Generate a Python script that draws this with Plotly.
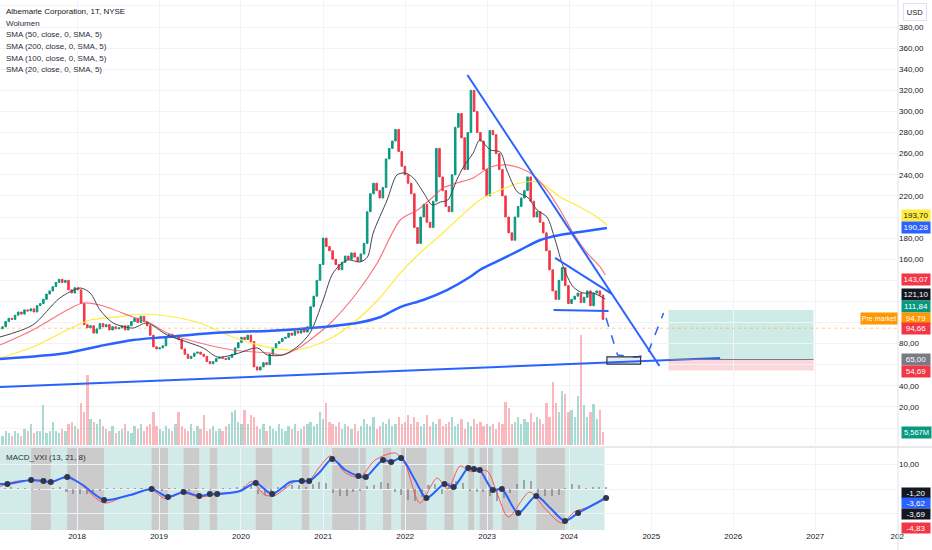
import pandas as pd
import plotly.graph_objects as go
from datetime import datetime

FONT = "Liberation Sans, Arial, sans-serif"
UP = "#089981"
DOWN = "#F23645"
BLUE = "#2962FF"

# ---- weekly-ish candles (two-week steps), closes ----
start_date = "2017-01-20"
close_2017 = [94, 96, 101, 104, 103, 107, 110, 108, 112, 111, 113, 110, 116, 118, 122, 127, 130, 134, 138, 141, 138, 140, 131, 128, 133, 131]
close_2018 = [118, 98, 95, 97, 90, 94, 99, 96, 98, 93, 96, 94, 95, 97, 93, 97, 101, 104, 100, 106, 101, 97, 88, 77, 75, 76]
close_2019 = [78, 86, 89, 86, 87, 84, 75, 70, 66, 68, 71, 72, 70, 68, 63, 61, 63, 66, 67, 66, 65, 67, 70, 76, 81, 86]
close_2020 = [84, 88, 82, 58, 55, 58, 62, 60, 70, 76, 80, 82, 85, 86, 90, 88, 92, 90, 94, 91, 96, 115, 125, 140, 155, 180]
close_2021 = [172, 168, 160, 155, 150, 157, 163, 160, 166, 162, 158, 165, 175, 205, 222, 232, 225, 218, 228, 255, 265, 272, 283, 262, 248, 240]
close_2022 = [232, 222, 190, 175, 200, 212, 195, 190, 215, 265, 238, 225, 210, 205, 240, 285, 298, 275, 245, 280, 320, 300, 280, 272, 245, 220]
close_2023 = [282, 278, 260, 245, 220, 200, 185, 178, 200, 210, 218, 225, 238, 215, 200, 205, 195, 185, 168, 150, 130, 122, 140, 152, 135, 118]
close_2024 = [122, 125, 128, 119, 124, 130, 116, 128, 130, 126, 103]

# volume in millions
vol_2017 = [5, 4, 6, 5, 4, 6, 5, 4, 7, 6, 9, 5, 6, 6, 17, 5, 6, 10, 6, 5, 7, 6, 9, 10, 8, 7]
vol_2018 = [18, 14, 30, 11, 10, 9, 11, 8, 7, 6, 8, 5, 6, 7, 9, 6, 5, 8, 7, 9, 6, 8, 9, 14, 8, 7]
vol_2019 = [6, 8, 7, 6, 9, 14, 8, 7, 6, 9, 6, 8, 7, 13, 6, 7, 8, 6, 7, 6, 8, 9, 14, 15, 10, 9]
vol_2020 = [15, 9, 13, 12, 8, 7, 9, 6, 8, 7, 6, 9, 7, 6, 8, 7, 9, 6, 7, 8, 9, 10, 8, 9, 14, 11]
vol_2021 = [18, 10, 9, 8, 10, 7, 9, 8, 7, 9, 6, 8, 11, 9, 8, 12, 7, 8, 10, 9, 11, 8, 9, 12, 9, 10]
vol_2022 = [13, 9, 12, 10, 8, 9, 13, 8, 10, 9, 11, 8, 9, 10, 12, 8, 9, 11, 7, 10, 8, 11, 9, 10, 8, 9]
vol_2023 = [8, 9, 7, 10, 9, 18.6, 16, 9, 10, 12, 9, 11, 10, 13.6, 10, 12, 11, 9, 18, 12, 27, 18, 14, 23, 22, 14]
vol_2024 = [15, 12, 21, 47, 17, 12, 14, 17.6, 11, 15, 5.567]

# ---- moving averages (decimal year, price) ----
sma20_t = [2017.06, 2017.46, 2017.79, 2018.04, 2018.16, 2018.28, 2018.44, 2018.68, 2018.85, 2019.10, 2019.34, 2019.54, 2019.71, 2019.90, 2020.20, 2020.32, 2020.51, 2020.68, 2020.84, 2021.00, 2021.12, 2021.29, 2021.45, 2021.54, 2021.61, 2021.78, 2021.90, 2022.00, 2022.10, 2022.22, 2022.33, 2022.43, 2022.52, 2022.63, 2022.71, 2022.83, 2022.91, 2023.04, 2023.16, 2023.24, 2023.37, 2023.49, 2023.61, 2023.73, 2023.83, 2023.93, 2024.05, 2024.17, 2024.29, 2024.44]
sma20_v = [86.3, 97.7, 123.3, 132.7, 128.0, 111.9, 99.6, 94.8, 99.6, 88.2, 81.6, 75.9, 67.4, 69.3, 75.9, 69.3, 69.3, 76.8, 90.1, 121.4, 146.9, 159.3, 157.4, 162.1, 184.8, 216.1, 239.8, 241.7, 237.0, 223.7, 211.4, 214.2, 216.1, 235.1, 247.4, 260.6, 273.0, 263.5, 261.6, 244.5, 223.7, 219.0, 206.6, 200.0, 178.2, 152.6, 133.7, 128.0, 128.0, 122.3]
sma50_t = [2017.06, 2017.46, 2017.88, 2018.07, 2018.28, 2018.68, 2018.89, 2019.10, 2019.50, 2019.90, 2020.32, 2020.51, 2020.72, 2020.84, 2021.09, 2021.41, 2021.66, 2021.94, 2022.15, 2022.34, 2022.46, 2022.63, 2022.83, 2023.04, 2023.24, 2023.40, 2023.56, 2023.73, 2023.89, 2024.05, 2024.22, 2024.38, 2024.44]
sma50_v = [78.7, 92.9, 111.9, 118.5, 116.6, 105.3, 99.6, 90.1, 80.6, 74.0, 71.2, 69.3, 76.8, 83.5, 99.6, 128.0, 156.4, 197.2, 206.6, 219.0, 227.5, 232.2, 237.0, 247.4, 249.3, 246.4, 239.8, 225.6, 206.6, 184.8, 165.9, 152.6, 145.1]
sma100_t = [2017.06, 2017.46, 2017.88, 2018.16, 2018.49, 2018.80, 2019.10, 2019.50, 2019.90, 2020.32, 2020.63, 2020.84, 2021.12, 2021.41, 2021.70, 2021.94, 2022.22, 2022.46, 2022.67, 2022.91, 2023.16, 2023.40, 2023.61, 2023.73, 2023.89, 2024.13, 2024.34, 2024.46]
sma100_v = [66.4, 76.8, 92.9, 102.4, 105.3, 108.1, 106.2, 99.6, 86.3, 76.8, 74.0, 76.8, 86.3, 102.4, 124.2, 146.9, 168.7, 184.8, 200.0, 216.1, 225.6, 232.2, 233.2, 228.4, 219.0, 209.5, 200.0, 192.4]
sma200_t = [2017.06, 2017.88, 2018.28, 2018.68, 2019.10, 2019.50, 2019.90, 2020.32, 2021.00, 2021.41, 2021.70, 2021.94, 2022.22, 2022.51, 2022.79, 2022.91, 2023.16, 2023.40, 2023.65, 2023.89, 2024.13, 2024.46]
sma200_v = [65.5, 71.2, 77.8, 83.5, 86.3, 89.2, 91.1, 92.0, 95.8, 99.6, 105.3, 114.7, 121.4, 130.8, 143.2, 149.8, 159.3, 168.7, 178.2, 182.9, 185.8, 189.6]

# ---- drawn trend lines (decimal year, price) ----
trend_lines = {
    "down_big": ([2022.76, 2025.10], [334.5, 58.8]),
    "down_small": ([2023.83, 2024.52], [161.2, 127.1]),
    "support_flat": ([2023.81, 2024.48], [111.9, 111.0]),
    "support_long": ([2017.06, 2025.84], [38.9, 66.4]),
}
path_t = [2024.45, 2024.59, 2024.81, 2024.95, 2025.15]
path_v = [104.3, 69.3, 67.4, 69.3, 109.1]
zone_t = [2024.46, 2024.87]
zone_v = [60.7, 67.4]
trade_t = [2025.21, 2026.98]
trade_target, trade_entry, trade_stop = 111.84, 65.00, 54.69
premarket = 94.66

# ---- MACD_VXI ----
macd_t = [2017.06, 2017.15, 2017.44, 2017.59, 2017.68, 2017.88, 2018.07, 2018.33, 2018.65, 2018.91, 2019.11, 2019.30, 2019.49, 2019.62, 2019.71, 2019.99, 2020.18, 2020.38, 2020.60, 2020.74, 2020.83, 2020.96, 2021.11, 2021.27, 2021.43, 2021.52, 2021.73, 2021.83, 2021.95, 2022.12, 2022.26, 2022.48, 2022.59, 2022.77, 2022.84, 2022.91, 2023.07, 2023.18, 2023.38, 2023.60, 2023.77, 2023.95, 2024.11, 2024.45]
macd_v = [2.0, 2.0, 3.6, 3.2, 2.8, 4.8, 1.6, -4.4, -2.4, 0.0, -3.2, -1.2, -2.8, -2.0, -2.0, -0.8, 2.4, -2.0, 2.8, 3.2, 3.2, 6.8, 12.0, 7.6, 5.2, 4.8, 11.6, 10.8, 12.4, 3.6, -3.6, 2.0, 0.8, 8.4, 8.0, 7.6, -0.4, 0.0, -9.6, -2.8, -7.6, -12.8, -9.6, -3.6]
signal_t = [2017.06, 2017.24, 2017.44, 2017.59, 2017.73, 2017.88, 2018.04, 2018.33, 2018.59, 2018.91, 2019.07, 2019.30, 2019.49, 2019.66, 2019.99, 2020.13, 2020.29, 2020.41, 2020.66, 2020.83, 2020.96, 2021.09, 2021.27, 2021.45, 2021.63, 2021.88, 2022.00, 2022.18, 2022.39, 2022.52, 2022.67, 2022.79, 2023.00, 2023.12, 2023.26, 2023.52, 2023.71, 2023.91, 2024.07, 2024.26, 2024.45]
signal_v = [1.0, 3.0, 3.4, 3.0, 3.0, 5.2, 2.0, -5.6, -2.8, -0.4, -3.8, -1.6, -3.2, -2.4, -0.6, 3.0, -2.4, -2.6, 3.0, 3.6, 9.0, 13.2, 6.5, 4.8, 11.5, 14.4, 10.0, -5.6, 4.4, 0.0, 9.2, 7.0, 7.2, -1.6, -11.2, -1.2, -8.0, -13.6, -9.0, -7.0, -2.8]
cross_t = [2017.15, 2017.44, 2017.59, 2017.68, 2017.88, 2018.33, 2018.91, 2019.11, 2019.30, 2019.49, 2019.62, 2019.71, 2020.18, 2020.38, 2020.74, 2020.83, 2021.11, 2021.43, 2021.52, 2021.73, 2021.83, 2021.95, 2022.26, 2022.48, 2022.59, 2022.77, 2022.84, 2022.91, 2023.07, 2023.18, 2023.38, 2023.60, 2023.95, 2024.11, 2024.45]
cross_v = [2.0, 3.6, 3.2, 2.8, 4.8, -4.4, 0.0, -3.2, -1.2, -2.8, -2.0, -2.0, 2.4, -2.0, 3.2, 3.2, 12.0, 5.2, 4.8, 11.6, 10.8, 12.4, -3.6, 2.0, 0.8, 8.4, 8.0, 7.6, -0.4, 0.0, -9.6, -2.8, -12.8, -9.6, -3.6]
hist_start = "2017-02-01"
hist_v = [0.6, 0.8, 0.4, 0.3, -0.4, -0.3, 0.2, 0.5, 0.8, -1.0, -1.8,
          -2.2, -1.8, -1.2, -0.6, 0.5, 0.6, 0.4, 0.5, 0.3, 0.4, -0.3, -0.8,
          -0.6, 0.4, 0.5, -0.5, -0.6, 0.3, 0.4, -0.2, 0.2, 0.5, 0.6, 0.8,
          1.2, 1.5, -1.8, -2.6, -1.2, 1.0, 1.4, 1.6, 1.8, 0.8, 2.2, 3.0,
          2.5, -1.5, -3.0, -2.8, -1.0, -0.6, 1.2, 1.5, 2.8, 2.4, -1.0, -2.5,
          -4.5, -4.8, -3.2, 1.8, 2.0, -1.8, 2.5, 3.2, 2.6, -0.8, -1.2, -1.0,
          -3.0, -5.0, -3.5, -1.5, 2.0, 3.8, 3.2, -1.5, -2.8, -3.0, -2.5, 0.5,
          2.0, 1.5, 0.6, 0.8, 1.0, 0.7]
# grey phases of the MACD_VXI background (decimal year pairs)
phase_bands = [(2017.44, 2017.68), (2017.88, 2018.33), (2018.91, 2019.11), (2019.30, 2019.49), (2019.62, 2019.71),
               (2020.18, 2020.38), (2020.74, 2020.83), (2021.11, 2021.43), (2021.45, 2021.52), (2021.73, 2021.83),
               (2021.95, 2022.26), (2022.48, 2022.59), (2022.77, 2022.84), (2022.91, 2023.07), (2023.18, 2023.38),
               (2023.60, 2023.95)]

# price scale tags (text, value, bg, fg, pixel offset to avoid overlap)
price_tags = [("193,70", 193.70, "#FFEB3B", "#131722", 8), ("190,28", 190.28, BLUE, "white", 0),
              ("143,07", 143.07, DOWN, "white", -2), ("121,10", 121.10, "#131722", "white", 6),
              ("111,84", 111.84, UP, "white", 4), ("94,79", 94.79, "#FF9800", "white", 10),
              ("94,66", 94.66, DOWN, "white", 0), ("65,00", 65.00, "#787B86", "white", 0),
              ("54,69", 54.69, DOWN, "white", -1)]
macd_tags = [("-1,20", -1.20, "#131722", -1), ("-3,62", -3.62, BLUE, -5), ("-3,69", -3.69, "#131722", -16), ("-4,83", -4.83, DOWN, -27)]
legend_lines = ["Albemarle Corporation, 1T, NYSE", "Wolumen", "SMA (50, close, 0, SMA, 5)",
                "SMA (200, close, 0, SMA, 5)", "SMA (100, close, 0, SMA, 5)", "SMA (20, close, 0, SMA, 5)"]
year_ticks = [2018, 2019, 2020, 2021, 2022, 2023, 2024, 2025, 2026, 2027, 2028]
shown_prices = [20, 40, 80, 160, 180, 220, 240, 260, 280, 300, 320, 340, 360, 380]


def yr(t):
    y = int(t)
    a = datetime(y, 1, 1)
    b = datetime(y + 1, 1, 1)
    return a + (b - a) * (t - y)


def yrs(ts):
    return [yr(t) for t in ts]


closes = close_2017 + close_2018 + close_2019 + close_2020 + close_2021 + close_2022 + close_2023 + close_2024
volumes = vol_2017 + vol_2018 + vol_2019 + vol_2020 + vol_2021 + vol_2022 + vol_2023 + vol_2024
dates = pd.date_range(start_date, periods=len(closes), freq="14D")
opens = [closes[0]] + closes[:-1]
highs = [max(o, c) for o, c in zip(opens, closes)]
lows = [min(o, c) for o, c in zip(opens, closes)]
vol_cols = ["rgba(8,153,129,0.35)" if c >= o else "rgba(242,54,69,0.35)" for o, c in zip(opens, closes)]
hist_dates = pd.date_range(hist_start, periods=len(hist_v), freq="MS") + pd.Timedelta(days=14)

fig = go.Figure()
fig.add_trace(go.Bar(x=dates, y=volumes, marker_color=vol_cols, marker_line_width=0,
                     width=10 * 86400000, yaxis="y2", showlegend=False))
fig.add_trace(go.Candlestick(x=dates, open=opens, high=highs, low=lows, close=closes,
                             increasing=dict(line=dict(color=UP, width=1), fillcolor=UP),
                             decreasing=dict(line=dict(color=DOWN, width=1), fillcolor=DOWN),
                             whiskerwidth=0, showlegend=False))
for t, v, col, w in [(sma100_t, sma100_v, "#FFEB3B", 1.2), (sma50_t, sma50_v, "rgba(247,82,95,0.8)", 1.2),
                     (sma200_t, sma200_v, BLUE, 2.5), (sma20_t, sma20_v, "#434651", 1)]:
    fig.add_trace(go.Scatter(x=yrs(t), y=v, mode="lines", line=dict(color=col, width=w, shape="spline", smoothing=0.8),
                             showlegend=False))
for t, v in trend_lines.values():
    fig.add_trace(go.Scatter(x=yrs(t), y=v, mode="lines", line=dict(color=BLUE, width=2), showlegend=False))
fig.add_trace(go.Scatter(x=yrs(path_t), y=path_v, mode="lines", line=dict(color=BLUE, width=1.5, dash="dash"),
                         showlegend=False))

# MACD panel
fig.add_trace(go.Bar(x=hist_dates, y=hist_v, marker_color="rgba(110,110,120,0.55)", marker_line_width=0,
                     width=9 * 86400000, yaxis="y3", showlegend=False))
fig.add_trace(go.Scatter(x=yrs(signal_t), y=signal_v, mode="lines", yaxis="y3",
                         line=dict(color="#FF5252", width=1, shape="spline", smoothing=0.8), showlegend=False))
fig.add_trace(go.Scatter(x=yrs(macd_t), y=macd_v, mode="lines", yaxis="y3",
                         line=dict(color=BLUE, width=2, shape="spline", smoothing=0.8), showlegend=False))
fig.add_trace(go.Scatter(x=yrs(cross_t), y=cross_v, mode="markers", yaxis="y3",
                         marker=dict(color="#2f3650", size=6), showlegend=False))

shapes = []
# MACD background and grey phases
shapes.append(dict(type="rect", xref="x", yref="y3 domain", x0=dates[0] - pd.Timedelta(days=30),
                   x1=dates[-1] + pd.Timedelta(days=7), y0=0, y1=1, fillcolor="#d2ebe8", line_width=0, layer="below"))
for a, b in phase_bands:
    shapes.append(dict(type="rect", xref="x", yref="y3 domain", x0=yr(a), x1=yr(b), y0=0, y1=1,
                       fillcolor="#cbcbcb", line_width=0, layer="below"))
# risk/reward box
shapes.append(dict(type="rect", xref="x", yref="y", x0=yr(trade_t[0]), x1=yr(trade_t[1]), y0=trade_entry,
                   y1=trade_target, fillcolor="rgba(8,153,129,0.2)", line_width=0, layer="below"))
shapes.append(dict(type="rect", xref="x", yref="y", x0=yr(trade_t[0]), x1=yr(trade_t[1]), y0=trade_stop,
                   y1=trade_entry, fillcolor="rgba(242,54,69,0.2)", line_width=0, layer="below"))
shapes.append(dict(type="line", xref="x", yref="y", x0=yr(trade_t[0]), x1=yr(trade_t[1]), y0=trade_entry,
                   y1=trade_entry, line=dict(color="#787B86", width=1)))
# small target zone
shapes.append(dict(type="rect", xref="x", yref="y", x0=yr(zone_t[0]), x1=yr(zone_t[1]), y0=zone_v[0], y1=zone_v[1],
                   fillcolor="rgba(41,98,255,0.12)", line=dict(color="#333333", width=1.2)))
# pre-market line
shapes.append(dict(type="line", xref="paper", yref="y", x0=0, x1=1, y0=premarket, y1=premarket,
                   line=dict(color="rgba(255,152,0,0.45)", width=1, dash="dot")))
# pane separator and scale border
shapes.append(dict(type="line", xref="paper", yref="paper", x0=0, x1=1.04, y0=0.1566, y1=0.1566,
                   line=dict(color="#d1d4dc", width=1)))
shapes.append(dict(type="line", xref="paper", yref="paper", x0=1, x1=1, y0=-0.04, y1=1,
                   line=dict(color="#e0e3eb", width=1)))

ann = []
for i, txt in enumerate(legend_lines):
    ann.append(dict(xref="paper", yref="paper", x=0.004, y=1 - (11.7 + 11.6 * i) / 530, text=txt, showarrow=False,
                    xanchor="left", yanchor="middle",
                    font=dict(family=FONT, size=8, color="#131722" if i == 0 else "#2a2e39")))
ann.append(dict(xref="paper", yref="paper", x=0.004, y=1 - 457 / 530, text="MACD_VXI (13, 21, 8)", showarrow=False,
                xanchor="left", yanchor="middle", font=dict(family=FONT, size=8, color="#2a2e39")))
for txt, val, bg, fg, dy in price_tags:
    ann.append(dict(xref="paper", yref="y", x=1, y=val, yshift=dy, xshift=3, text=txt, showarrow=False,
                    xanchor="left", yanchor="middle", bgcolor=bg, width=28, height=11, borderpad=0,
                    font=dict(family=FONT, size=8, color=fg)))
ann.append(dict(xref="paper", yref="y", x=1, y=price_tags[5][1], yshift=10, xshift=0, text="Pre market",
                showarrow=False, xanchor="right", yanchor="middle", bgcolor="#FF9800", width=36, height=11,
                borderpad=0, font=dict(family=FONT, size=7, color="white")))
ann.append(dict(xref="paper", yref="y2", x=1, y=volumes[-1], xshift=3, text="5,567M", showarrow=False,
                xanchor="left", yanchor="middle", bgcolor=UP, width=29, height=11, borderpad=0,
                font=dict(family=FONT, size=7.5, color="white")))
for txt, val, bg, dy in macd_tags:
    ann.append(dict(xref="paper", yref="y3", x=1, y=val, yshift=dy, xshift=3, text=txt, showarrow=False,
                    xanchor="left", yanchor="middle", bgcolor=bg, width=28, height=10, borderpad=0,
                    font=dict(family=FONT, size=8, color="white")))
ann.append(dict(xref="paper", yref="paper", x=1, y=1 - 12 / 530, xshift=5, text="USD", showarrow=False,
                xanchor="left", yanchor="middle", bgcolor="white", bordercolor="#e0e3eb", borderwidth=1,
                width=20, height=14, font=dict(family=FONT, size=7.5, color="#131722")))

price_vals = list(range(0, 420, 20))
price_text = [f"{p},00" if p in shown_prices else "" for p in price_vals]

fig.update_layout(
    width=932, height=550,
    margin=dict(l=0, r=34, t=0, b=20),
    paper_bgcolor="white", plot_bgcolor="white",
    font=dict(family=FONT, size=8, color="#131722"),
    hovermode=False, bargap=0,
    shapes=shapes, annotations=ann,
    xaxis=dict(type="date", range=[yr(2017.06), yr(2028.01)], anchor="y3",
               tickvals=[datetime(y, 1, 1) for y in year_ticks],
               ticktext=[str(y) for y in year_ticks[:-1]] + ["202"],
               showgrid=True, gridcolor="#f0f3fa", zeroline=False, showline=False,
               rangeslider=dict(visible=False), tickfont=dict(size=8, color="#131722")),
    yaxis=dict(domain=[0.1604, 1], range=[-16, 405.6], side="right", anchor="x",
               tickvals=price_vals, ticktext=price_text, showgrid=True, gridcolor="#f0f3fa",
               zeroline=False, tickfont=dict(size=8, color="#131722")),
    yaxis2=dict(overlaying="y", range=[0, 191], visible=False),
    yaxis3=dict(domain=[0, 0.1547], range=[-16.4, 16.4], side="right", anchor="x",
                tickvals=[-10, 0, 10], ticktext=["", "", "10,00"], showgrid=True, gridcolor="#f0f3fa",
                zeroline=False, tickfont=dict(size=8, color="#131722")),
)

# page body has a default 8px margin; drop it so the chart fills the window
fig.write_html("out.html", config={"displayModeBar": False},
               post_script="document.body.style.margin='0';")
